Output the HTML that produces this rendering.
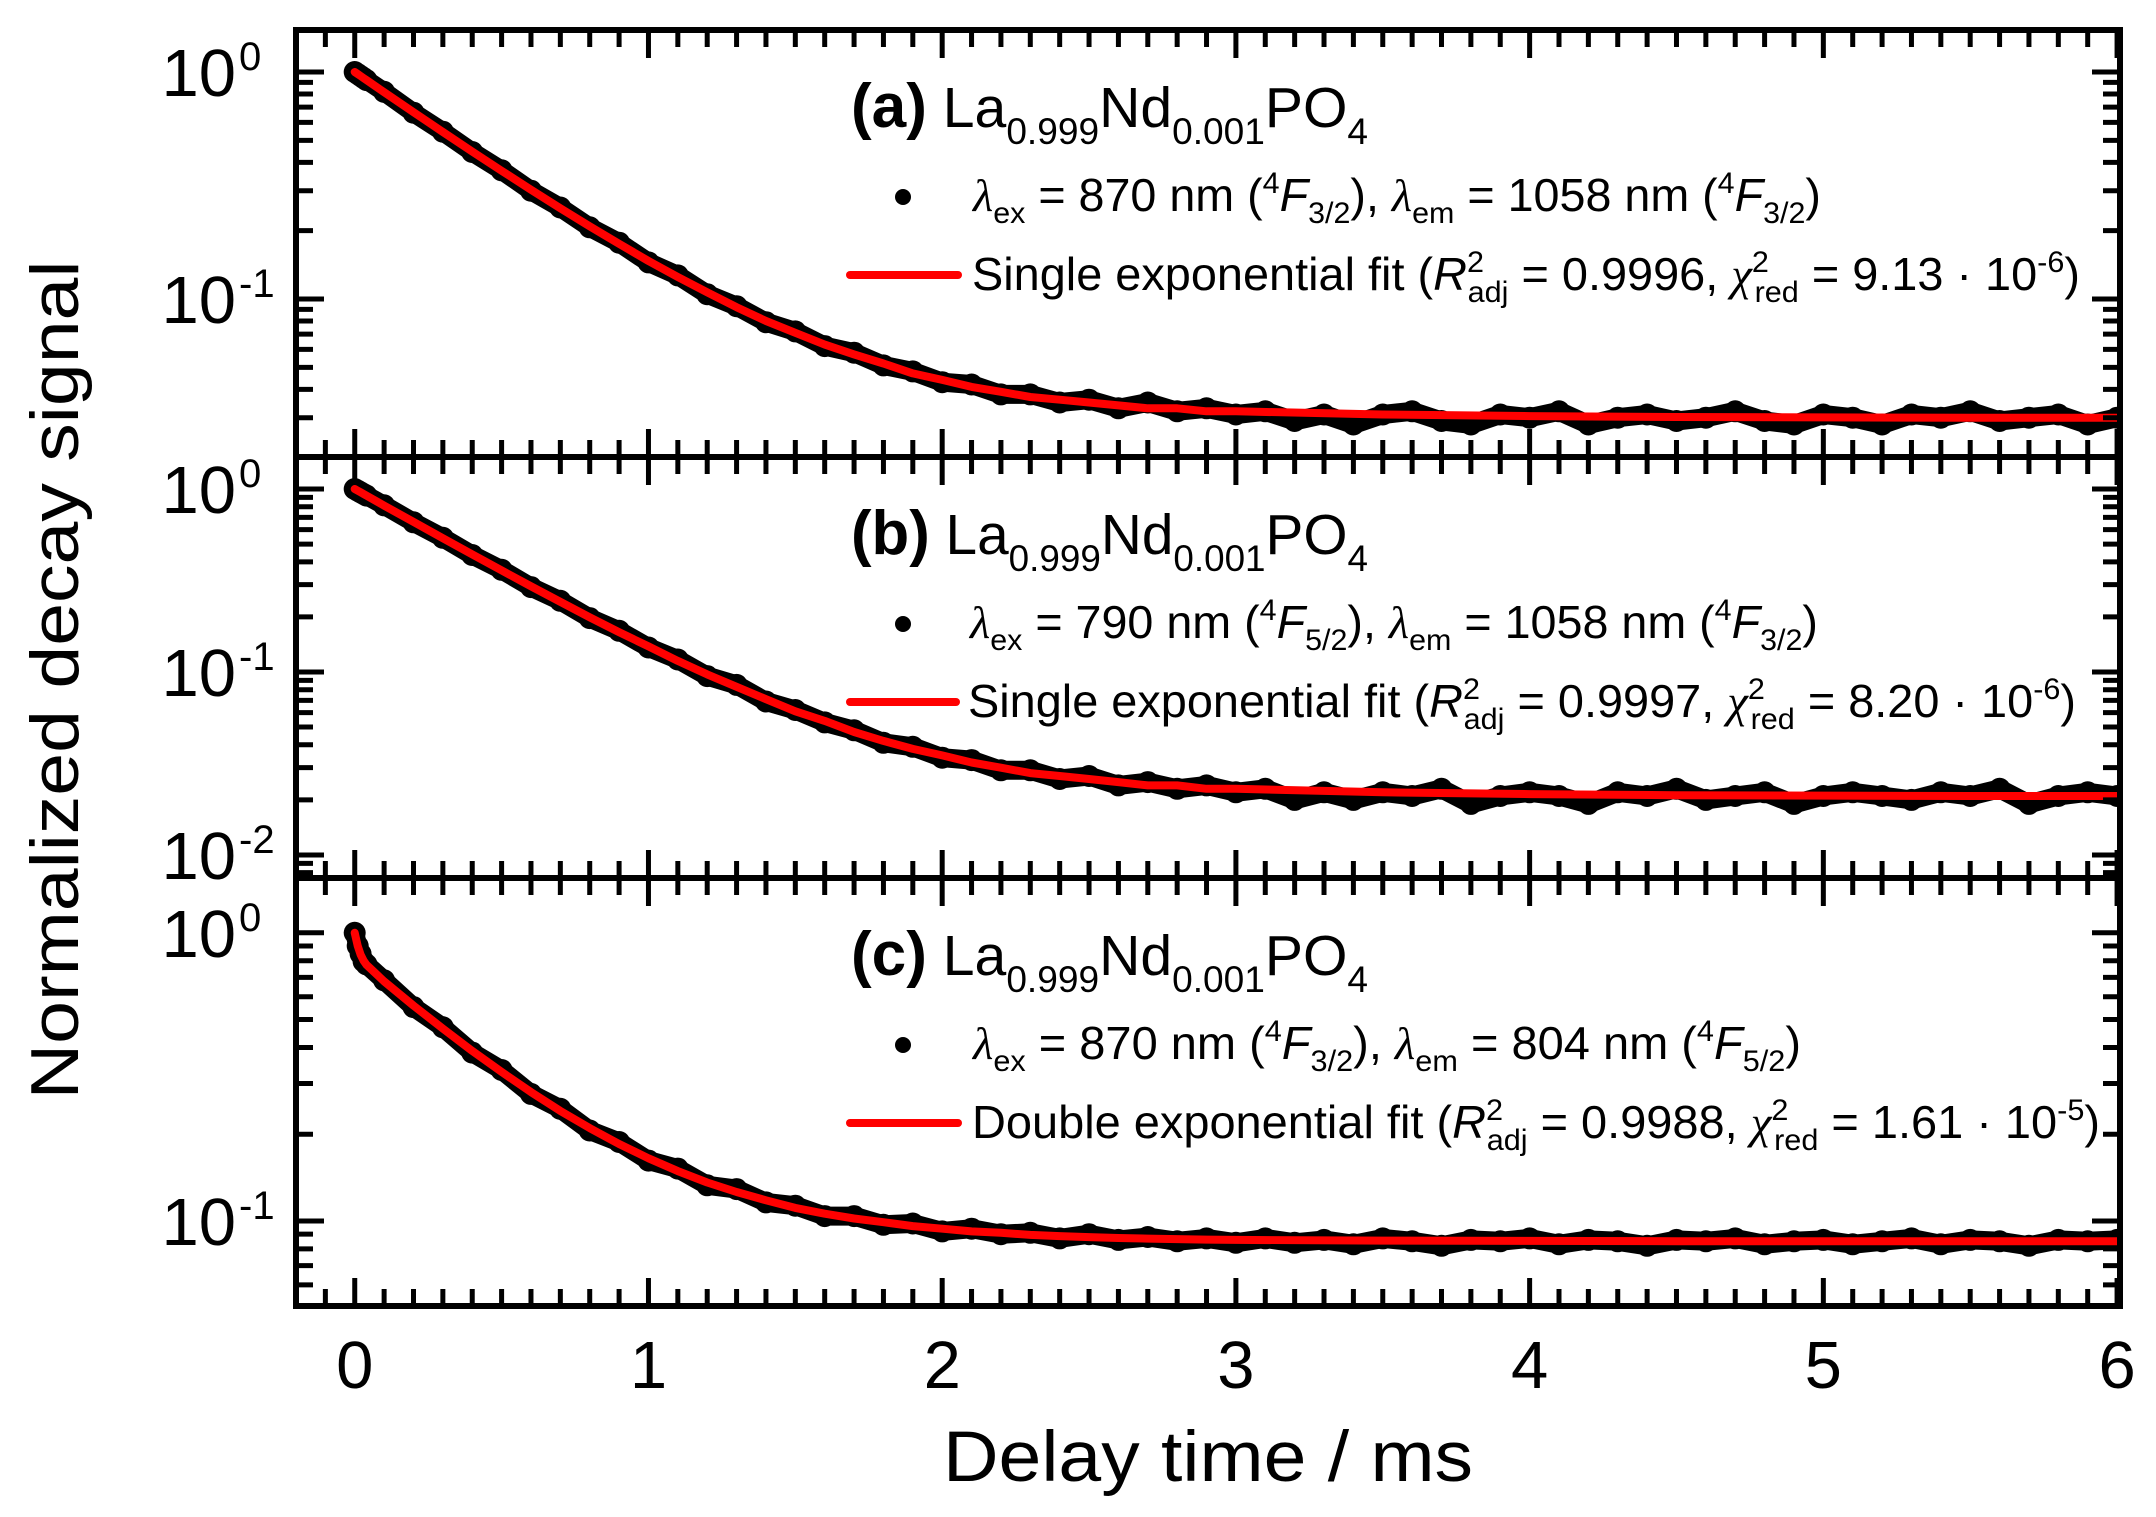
<!DOCTYPE html>
<html><head><meta charset="utf-8"><style>
html,body{margin:0;padding:0;background:#fff;}
svg{display:block;font-family:"Liberation Sans",Arial,sans-serif;}
</style></head><body>
<svg id="chart" width="2156" height="1517" viewBox="0 0 2156 1517" xmlns="http://www.w3.org/2000/svg">
<rect width="2156" height="1517" fill="#fff"/>
<defs>
<clipPath id="clipA"><rect x="296" y="30" width="1824" height="427"/></clipPath>
<clipPath id="clipB"><rect x="296" y="457" width="1824" height="421"/></clipPath>
<clipPath id="clipC"><rect x="296" y="878" width="1824" height="428"/></clipPath>
</defs>
<g id="marks"></g>
<g id="axes"></g>
<g id="labels"></g>
<text transform="translate(78,680) rotate(-90)" text-anchor="middle" font-size="68" textLength="839" lengthAdjust="spacingAndGlyphs">Normalized decay signal</text>
<text x="943" y="1481" font-size="71" textLength="530" lengthAdjust="spacingAndGlyphs">Delay time / ms</text>

<g transform="translate(0,0)">
<text x="851" y="127" font-size="57" textLength="517" lengthAdjust="spacingAndGlyphs"><tspan font-weight="bold" font-size="62">(a)</tspan> La<tspan dy="17" font-size="37">0.999</tspan><tspan dy="-17">Nd</tspan><tspan dy="17" font-size="37">0.001</tspan><tspan dy="-17">PO</tspan><tspan dy="17" font-size="37">4</tspan></text>
<circle cx="903" cy="197" r="8" fill="#000"/>
<text x="973" y="211" font-size="46" textLength="848" lengthAdjust="spacingAndGlyphs"><tspan font-style="italic" font-family="Liberation Serif">λ</tspan><tspan dy="12" font-size="30">ex</tspan><tspan dy="-12"> = 870 nm (</tspan><tspan dy="-18" font-size="30">4</tspan><tspan dy="18" font-style="italic">F</tspan><tspan dy="12" font-size="30">3/2</tspan><tspan dy="-12">), </tspan><tspan font-style="italic" font-family="Liberation Serif">λ</tspan><tspan dy="12" font-size="30">em</tspan><tspan dy="-12"> = 1058 nm (</tspan><tspan dy="-18" font-size="30">4</tspan><tspan dy="18" font-style="italic">F</tspan><tspan dy="12" font-size="30">3/2</tspan><tspan dy="-12">)</tspan></text>
<line x1="850" y1="275" x2="958" y2="275" stroke="#ff0000" stroke-width="8" stroke-linecap="round"/>
<text x="972" y="290" font-size="46" textLength="1108" lengthAdjust="spacingAndGlyphs">Single exponential fit (<tspan font-style="italic">R</tspan><tspan dy="-18" font-size="30">2</tspan><tspan dx="-16" dy="30" font-size="30">adj</tspan><tspan dy="-12"> = 0.9996, </tspan><tspan font-style="italic" font-family="Liberation Serif">χ</tspan><tspan dy="-18" font-size="30">2</tspan><tspan dx="-14" dy="30" font-size="30">red</tspan><tspan dy="-12"> = 9.13 · 10</tspan><tspan dy="-18" font-size="30">-6</tspan><tspan dy="18">)</tspan></text>
</g>

<g transform="translate(0,427)">
<text x="851" y="127" font-size="57" textLength="517" lengthAdjust="spacingAndGlyphs"><tspan font-weight="bold" font-size="62">(b)</tspan> La<tspan dy="17" font-size="37">0.999</tspan><tspan dy="-17">Nd</tspan><tspan dy="17" font-size="37">0.001</tspan><tspan dy="-17">PO</tspan><tspan dy="17" font-size="37">4</tspan></text>
<circle cx="903" cy="197" r="8" fill="#000"/>
<text x="970" y="211" font-size="46" textLength="848" lengthAdjust="spacingAndGlyphs"><tspan font-style="italic" font-family="Liberation Serif">λ</tspan><tspan dy="12" font-size="30">ex</tspan><tspan dy="-12"> = 790 nm (</tspan><tspan dy="-18" font-size="30">4</tspan><tspan dy="18" font-style="italic">F</tspan><tspan dy="12" font-size="30">5/2</tspan><tspan dy="-12">), </tspan><tspan font-style="italic" font-family="Liberation Serif">λ</tspan><tspan dy="12" font-size="30">em</tspan><tspan dy="-12"> = 1058 nm (</tspan><tspan dy="-18" font-size="30">4</tspan><tspan dy="18" font-style="italic">F</tspan><tspan dy="12" font-size="30">3/2</tspan><tspan dy="-12">)</tspan></text>
<line x1="850" y1="275" x2="956" y2="275" stroke="#ff0000" stroke-width="8" stroke-linecap="round"/>
<text x="968" y="290" font-size="46" textLength="1108" lengthAdjust="spacingAndGlyphs">Single exponential fit (<tspan font-style="italic">R</tspan><tspan dy="-18" font-size="30">2</tspan><tspan dx="-16" dy="30" font-size="30">adj</tspan><tspan dy="-12"> = 0.9997, </tspan><tspan font-style="italic" font-family="Liberation Serif">χ</tspan><tspan dy="-18" font-size="30">2</tspan><tspan dx="-14" dy="30" font-size="30">red</tspan><tspan dy="-12"> = 8.20 · 10</tspan><tspan dy="-18" font-size="30">-6</tspan><tspan dy="18">)</tspan></text>
</g>

<g transform="translate(0,848)">
<text x="851" y="127" font-size="57" textLength="517" lengthAdjust="spacingAndGlyphs"><tspan font-weight="bold" font-size="62">(c)</tspan> La<tspan dy="17" font-size="37">0.999</tspan><tspan dy="-17">Nd</tspan><tspan dy="17" font-size="37">0.001</tspan><tspan dy="-17">PO</tspan><tspan dy="17" font-size="37">4</tspan></text>
<circle cx="903" cy="197" r="8" fill="#000"/>
<text x="973" y="211" font-size="46" textLength="828" lengthAdjust="spacingAndGlyphs"><tspan font-style="italic" font-family="Liberation Serif">λ</tspan><tspan dy="12" font-size="30">ex</tspan><tspan dy="-12"> = 870 nm (</tspan><tspan dy="-18" font-size="30">4</tspan><tspan dy="18" font-style="italic">F</tspan><tspan dy="12" font-size="30">3/2</tspan><tspan dy="-12">), </tspan><tspan font-style="italic" font-family="Liberation Serif">λ</tspan><tspan dy="12" font-size="30">em</tspan><tspan dy="-12"> = 804 nm (</tspan><tspan dy="-18" font-size="30">4</tspan><tspan dy="18" font-style="italic">F</tspan><tspan dy="12" font-size="30">5/2</tspan><tspan dy="-12">)</tspan></text>
<line x1="850" y1="275" x2="958" y2="275" stroke="#ff0000" stroke-width="8" stroke-linecap="round"/>
<text x="972" y="290" font-size="46" textLength="1128" lengthAdjust="spacingAndGlyphs">Double exponential fit (<tspan font-style="italic">R</tspan><tspan dy="-18" font-size="30">2</tspan><tspan dx="-16" dy="30" font-size="30">adj</tspan><tspan dy="-12"> = 0.9988, </tspan><tspan font-style="italic" font-family="Liberation Serif">χ</tspan><tspan dy="-18" font-size="30">2</tspan><tspan dx="-14" dy="30" font-size="30">red</tspan><tspan dy="-12"> = 1.61 · 10</tspan><tspan dy="-18" font-size="30">-5</tspan><tspan dy="18">)</tspan></text>
</g>
</svg>
<script>
// ---- data ----
const fitTimes = [0,0.01,0.02,0.03,0.04,0.1,0.2,0.3,0.4,0.5,0.6,0.7,0.8,0.9,1.0,1.1,1.2,1.3,1.4,1.5,1.6,1.7,1.8,1.9,2.0,2.1,2.2,2.3,2.4,2.5,2.6,2.7,2.8,2.9,3.0,3.5,4.0,4.5,5.0,5.5,6.0];
const fitA = [1.000,.980,.960,.940,.921,.815,.665,.544,.446,.367,.303,.251,.209,.175,.147,.125,.107,.092,.080,.071,.063,.057,.052,.047,.044,.041,.039,.037,.036,.035,.034,.033,.033,.032,.032,.031,.0305,.0302,.0301,.030,.030];
const fitB = [1.000,.979,.959,.939,.920,.812,.661,.538,.439,.359,.294,.242,.199,.165,.138,.115,.097,.083,.071,.061,.054,.047,.042,.038,.035,.032,.030,.028,.027,.026,.025,.024,.024,.023,.023,.022,.0215,.0212,.0211,.021,.021];
const fitC = [1.000,.900,.840,.800,.774,.678,.559,.465,.389,.329,.280,.241,.210,.185,.165,.149,.136,.126,.118,.111,.106,.102,.099,.096,.094,.092,.091,.0895,.0886,.0879,.0873,.0869,.0865,.0862,.086,.0855,.0853,.0851,.085,.085,.085];
const dataTimes = [0,0.01,0.02,0.03,0.04,0.1,0.2,0.3,0.4,0.5,0.6,0.7,0.8,0.9,1.0,1.1,1.2,1.3,1.4,1.5,1.6,1.7,1.8,1.9,2.0,2.1,2.2,2.3,2.4,2.5,2.6,2.7,2.8,2.9,3.0,3.1,3.2,3.3,3.4,3.5,3.6,3.7,3.8,3.9,4.0,4.1,4.2,4.3,4.4,4.5,4.6,4.7,4.8,4.9,5.0,5.1,5.2,5.3,5.4,5.5,5.6,5.7,5.8,5.9,6.0];
const dataA = [1.000,.980,.960,.940,.921,.818,.662,.546,.444,.369,.300,.253,.207,.177,.145,.127,.105,.093,.079,.072,.062,.058,.051,.048,.043,.042,.038,.038,.035,.036,.033,.035,.032,.033,.031,
.032,.029,.031,.028,.031,.032,.029,.028,.031,.030,.032,.028,.030,.031,.029,.030,.032,.029,.028,.031,.030,.028,.031,.030,.032,.029,.030,.031,.028,.030];
const dataB = [1.000,.979,.959,.939,.920,.815,.658,.541,.436,.362,.291,.245,.197,.168,.136,.117,.095,.085,.069,.062,.053,.048,.041,.039,.034,.033,.029,.029,.026,.027,.024,.025,.023,.024,.022,
.023,.020,.022,.020,.022,.021,.023,.019,.021,.022,.021,.019,.022,.021,.023,.020,.021,.022,.019,.021,.022,.021,.020,.022,.021,.023,.019,.021,.022,.021];
const dataC = [1.000,.900,.845,.795,.776,.684,.552,.470,.384,.334,.276,.245,.206,.188,.162,.152,.133,.129,.116,.113,.104,.104,.097,.098,.092,.094,.090,.091,.087,.090,.086,.088,.085,.087,.084,
.087,.084,.086,.083,.087,.085,.082,.086,.085,.087,.083,.086,.085,.082,.086,.085,.087,.083,.085,.086,.083,.085,.087,.083,.086,.085,.082,.086,.085,.086];
const xTickLabels = ["0","1","2","3","4","5","6"];
const yDecadesA = [0,-1];
const yDecadesB = [0,-1,-2];
const yDecadesC = [0,-1];

const NS = "http://www.w3.org/2000/svg";
const X0 = 296, X1 = 2120, XMIN = -0.2, XMAX = 6.01;
function xs(t){ return X0 + (t - XMIN) / (XMAX - XMIN) * (X1 - X0); }
const panels = [
  {id:"a", top:30, bottom:457, lmax:0.185, lmin:-1.696, fit:fitA, data:dataA, dec:yDecadesA, clip:"clipA"},
  {id:"b", top:457, bottom:878, lmax:0.175, lmin:-2.126, fit:fitB, data:dataB, dec:yDecadesB, clip:"clipB"},
  {id:"c", top:878, bottom:1306, lmax:0.19, lmin:-1.295, fit:fitC, data:dataC, dec:yDecadesC, clip:"clipC"}
];
function ys(p, v){ return p.top + (p.lmax - Math.log10(v)) / (p.lmax - p.lmin) * (p.bottom - p.top); }
function mk(tag, attrs, parent){ const e = document.createElementNS(NS, tag); for (const k in attrs) e.setAttribute(k, attrs[k]); parent.appendChild(e); return e; }

const marks = document.getElementById("marks");
const axes = document.getElementById("axes");
const labels = document.getElementById("labels");

panels.forEach(p => {
  const g = mk("g", {"clip-path":"url(#"+p.clip+")"}, marks);
  
  
  const dpts = dataTimes.map((t,i) => xs(t).toFixed(1)+","+ys(p,p.data[i]).toFixed(1)).join(" ");
  const band = mk("polyline", {points:dpts, fill:"none", stroke:"#000", "stroke-width":"19", "stroke-linejoin":"round", "stroke-linecap":"round"}, g);
  
  
  dataTimes.forEach((t,i) => {
    const c = mk("circle", {cx:xs(t).toFixed(1), cy:ys(p,p.data[i]).toFixed(1), r:"11", fill:"#000"}, g);
    
    
  });
  const fpts = fitTimes.map((t,i) => xs(t).toFixed(1)+","+ys(p,p.fit[i]).toFixed(1)).join(" ");
  const fl = mk("polyline", {points:fpts, fill:"none", stroke:"#ff0000", "stroke-width":"8", "stroke-linejoin":"round", "stroke-linecap":"round"}, g);
  
  

  for (let k = -2; k <= 60; k++) {
    const t = k / 10, x = xs(t);
    if (x < X0 + 4 || x > X1 - 2) continue;
    const major = (k % 10 === 0), L = major ? 28 : 17;
    const tb = mk("line", {x1:x, y1:p.bottom, x2:x, y2:p.bottom - L, stroke:"#000", "stroke-width":"5"}, axes);
    
    
    const tt = mk("line", {x1:x, y1:p.top, x2:x, y2:p.top + L, stroke:"#000", "stroke-width":"5"}, axes);
    
    
  }
  for (let d = -3; d <= 0; d++) {
    for (let m = 1; m <= 9; m++) {
      const v = m * Math.pow(10, d), lv = Math.log10(v);
      if (lv > p.lmax - 0.01 || lv < p.lmin + 0.01) continue;
      const y = ys(p, v), L = (m === 1) ? 28 : 17;
      const tl = mk("line", {x1:X0, y1:y, x2:X0 + L, y2:y, stroke:"#000", "stroke-width":"5"}, axes);
      
      
      const tr = mk("line", {x1:X1, y1:y, x2:X1 - L, y2:y, stroke:"#000", "stroke-width":"5"}, axes);
      
      
    }
  }
  const fr = mk("rect", {x:X0, y:p.top, width:X1 - X0, height:p.bottom - p.top, fill:"none", stroke:"#000", "stroke-width":"6"}, axes);
  
  

  p.dec.forEach(d => {
    const y = ys(p, Math.pow(10, d));
    const t = mk("text", {x:236, y:(y + 24).toFixed(1), "text-anchor":"end", "font-size":"67"}, labels);
    t.textContent = "10";
    
    
    const s = mk("text", {x:239, y:(y - 2).toFixed(1), "font-size":"40"}, labels);
    s.textContent = d === 0 ? "0" : String(d);
    
    
  });
});
xTickLabels.forEach((lab, i) => {
  const t = mk("text", {x:xs(i).toFixed(1), y:"1388", "text-anchor":"middle", "font-size":"67"}, labels);
  t.textContent = lab;
  
  
});
</script>
</body></html>
